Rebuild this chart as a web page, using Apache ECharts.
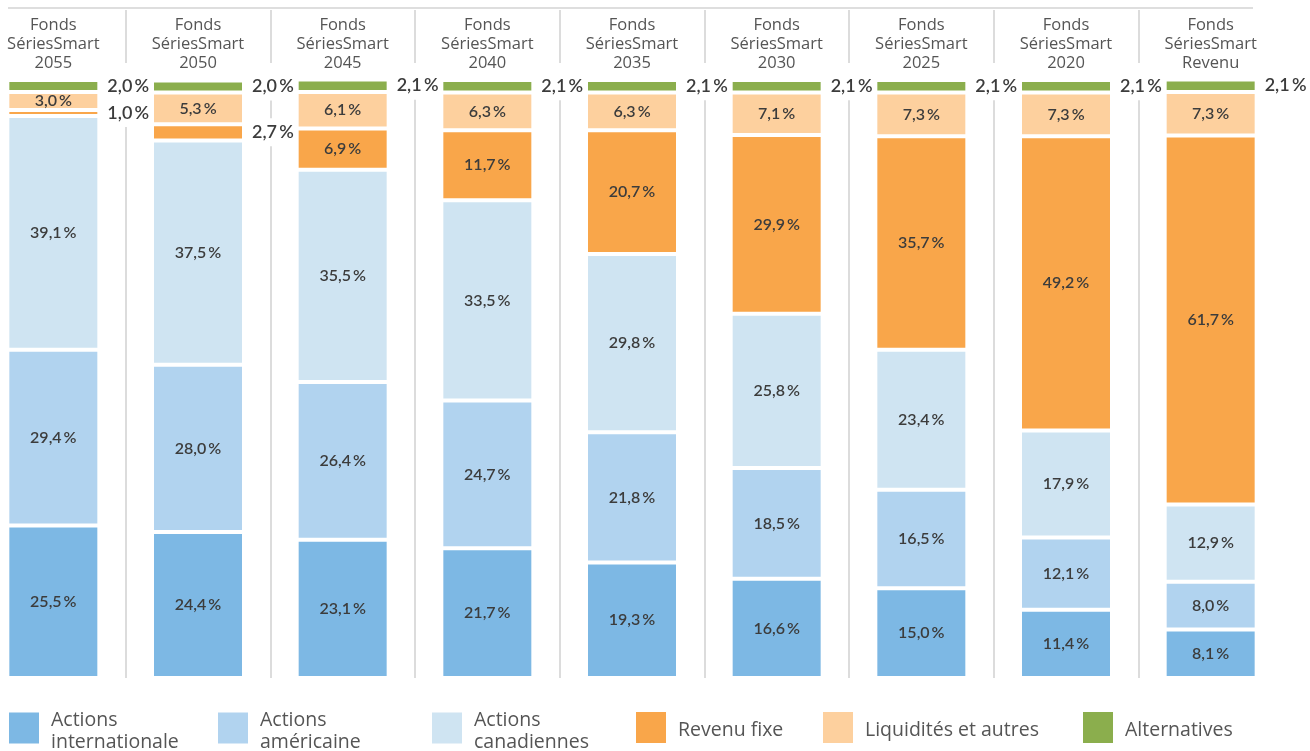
<!DOCTYPE html>
<html>
<head>
<meta charset="utf-8">
<script src="https://cdn.jsdelivr.net/npm/echarts@6/dist/echarts.min.js"></script>
<style>
  html, body { margin: 0; padding: 0; background: #fff; overflow: hidden; }
  /* chart canvas starts 19px left of the page so the first column's band is centred on its bar */
  #chart { position: absolute; left: -19px; top: 0; width: 1329px; height: 751px; }
</style>
</head>
<body>
<div id="chart"></div>
<script>
// fund columns (header line 3)
var funds = ['2055', '2050', '2045', '2040', '2035', '2030', '2025', '2020', 'Revenu'];

// stacked from bottom to top
var intl    = [25.5, 24.4, 23.1, 21.7, 19.3, 16.6, 15.0, 11.4, 8.1];
var amer    = [29.4, 28.0, 26.4, 24.7, 21.8, 18.5, 16.5, 12.1, 8.0];
var cana    = [39.1, 37.5, 35.5, 33.5, 29.8, 25.8, 23.4, 17.9, 12.9];
var revenu  = [1.0, 2.7, 6.9, 11.7, 20.7, 29.9, 35.7, 49.2, 61.7];
var liquid  = [3.0, 5.3, 6.1, 6.3, 6.3, 7.1, 7.3, 7.3, 7.3];
var altern  = [2.0, 2.0, 2.1, 2.1, 2.1, 2.1, 2.1, 2.1, 2.1];

var seriesNames = ['Actions internationale', 'Actions américaine', 'Actions canadiennes',
                   'Revenu fixe', 'Liquidités et autres', 'Alternatives'];
var legendText = ['Actions\ninternationale', 'Actions\naméricaine', 'Actions\ncanadiennes',
                  'Revenu fixe', 'Liquidités et autres', 'Alternatives'];
var colors = ['#7db8e4', '#b1d3ef', '#cfe4f2', '#f9a64a', '#fdd09e', '#8bae4d'];
var allData = [intl, amer, cana, revenu, liquid, altern];

var SHIFT = 19;
var legendLeft = [9, 218, 432, 636, 823, 1083];

function pct(v) {
    return v.toFixed(1).replace('.', ',') + '\u2009%';
}

var chart = echarts.init(document.getElementById('chart'));

var series = allData.map(function (arr, si) {
    return {
        name: seriesNames[si],
        type: 'bar',
        stack: 'total',
        xAxisIndex: 1,
        yAxisIndex: 1,
        barWidth: 92,
        itemStyle: { color: colors[si], borderColor: '#fff', borderWidth: 2 },
        label: {
            show: true,
            position: 'inside',
            formatter: function (p) { return pct(p.value); },
            fontFamily: 'Lato',
            fontSize: 16,
            fontWeight: 600,
            color: '#3c3c3c'
        },
        data: arr.map(function (v) {
            if (v < 2.8) {
                return {
                    value: v,
                    label: {
                        position: 'right',
                        distance: 5,
                        fontSize: 18,
                        fontWeight: 600,
                        backgroundColor: '#fff',
                        padding: [5, 3]
                    }
                };
            }
            return v;
        })
    };
});

// square sits a little above the text centre: the empty sub-path below stretches the icon box
var legendIcon = 'path://M0,0H30V31H0ZM0,37H30';

var legends = seriesNames.map(function (n, i) {
    var twoLines = legendText[i].indexOf('\n') >= 0;
    return {
        data: [n],
        left: legendLeft[i] + SHIFT,
        top: twoLines ? 709 : 712,
        padding: 0,
        icon: legendIcon,
        itemWidth: 30,
        itemHeight: 37,
        itemGap: 0,
        itemStyle: { borderWidth: 0 },
        selectedMode: false,
        formatter: function () { return legendText[i]; },
        textStyle: {
            fontFamily: 'Open Sans',
            fontSize: 19.5,
            lineHeight: 22,
            color: '#555',
            padding: [0, 0, 0, 7]
        }
    };
});

var option = {
    animation: false,
    color: colors,
    grid: [
        { left: 0, right: 27, top: 10, height: 53 },
        { left: 0, right: 27, top: 80, bottom: 73 }
    ],
    graphic: [{
        type: 'line',
        shape: { x1: 8 + SHIFT, y1: 8, x2: 1253 + SHIFT, y2: 8 },
        style: { stroke: '#dedede', lineWidth: 2 }
    }],
    legend: legends,
    xAxis: [
        {
            type: 'category',
            gridIndex: 0,
            data: funds,
            axisLine: { show: false },
            axisTick: { show: false },
            axisLabel: { show: false },
            splitLine: { show: true, showMinLine: false, showMaxLine: false,
                         lineStyle: { color: '#dcdcdc', width: 2 } }
        },
        {
            type: 'category',
            gridIndex: 1,
            position: 'top',
            data: funds,
            axisLine: { show: false },
            axisTick: { show: false },
            axisLabel: {
                margin: 7,
                formatter: function (v) { return 'Fonds\nSériesSmart\n' + v; },
                fontFamily: 'Open Sans',
                fontSize: 16.5,
                lineHeight: 19,
                color: '#555'
            },
            splitLine: { show: true, showMinLine: false, showMaxLine: false,
                         lineStyle: { color: '#dcdcdc', width: 2 } }
        }
    ],
    yAxis: [
        { type: 'value', gridIndex: 0, show: false, min: 0, max: 1 },
        { type: 'value', gridIndex: 1, show: false, min: 0, max: 100 }
    ],
    series: series
};

chart.setOption(option);
</script>
</body>
</html>
